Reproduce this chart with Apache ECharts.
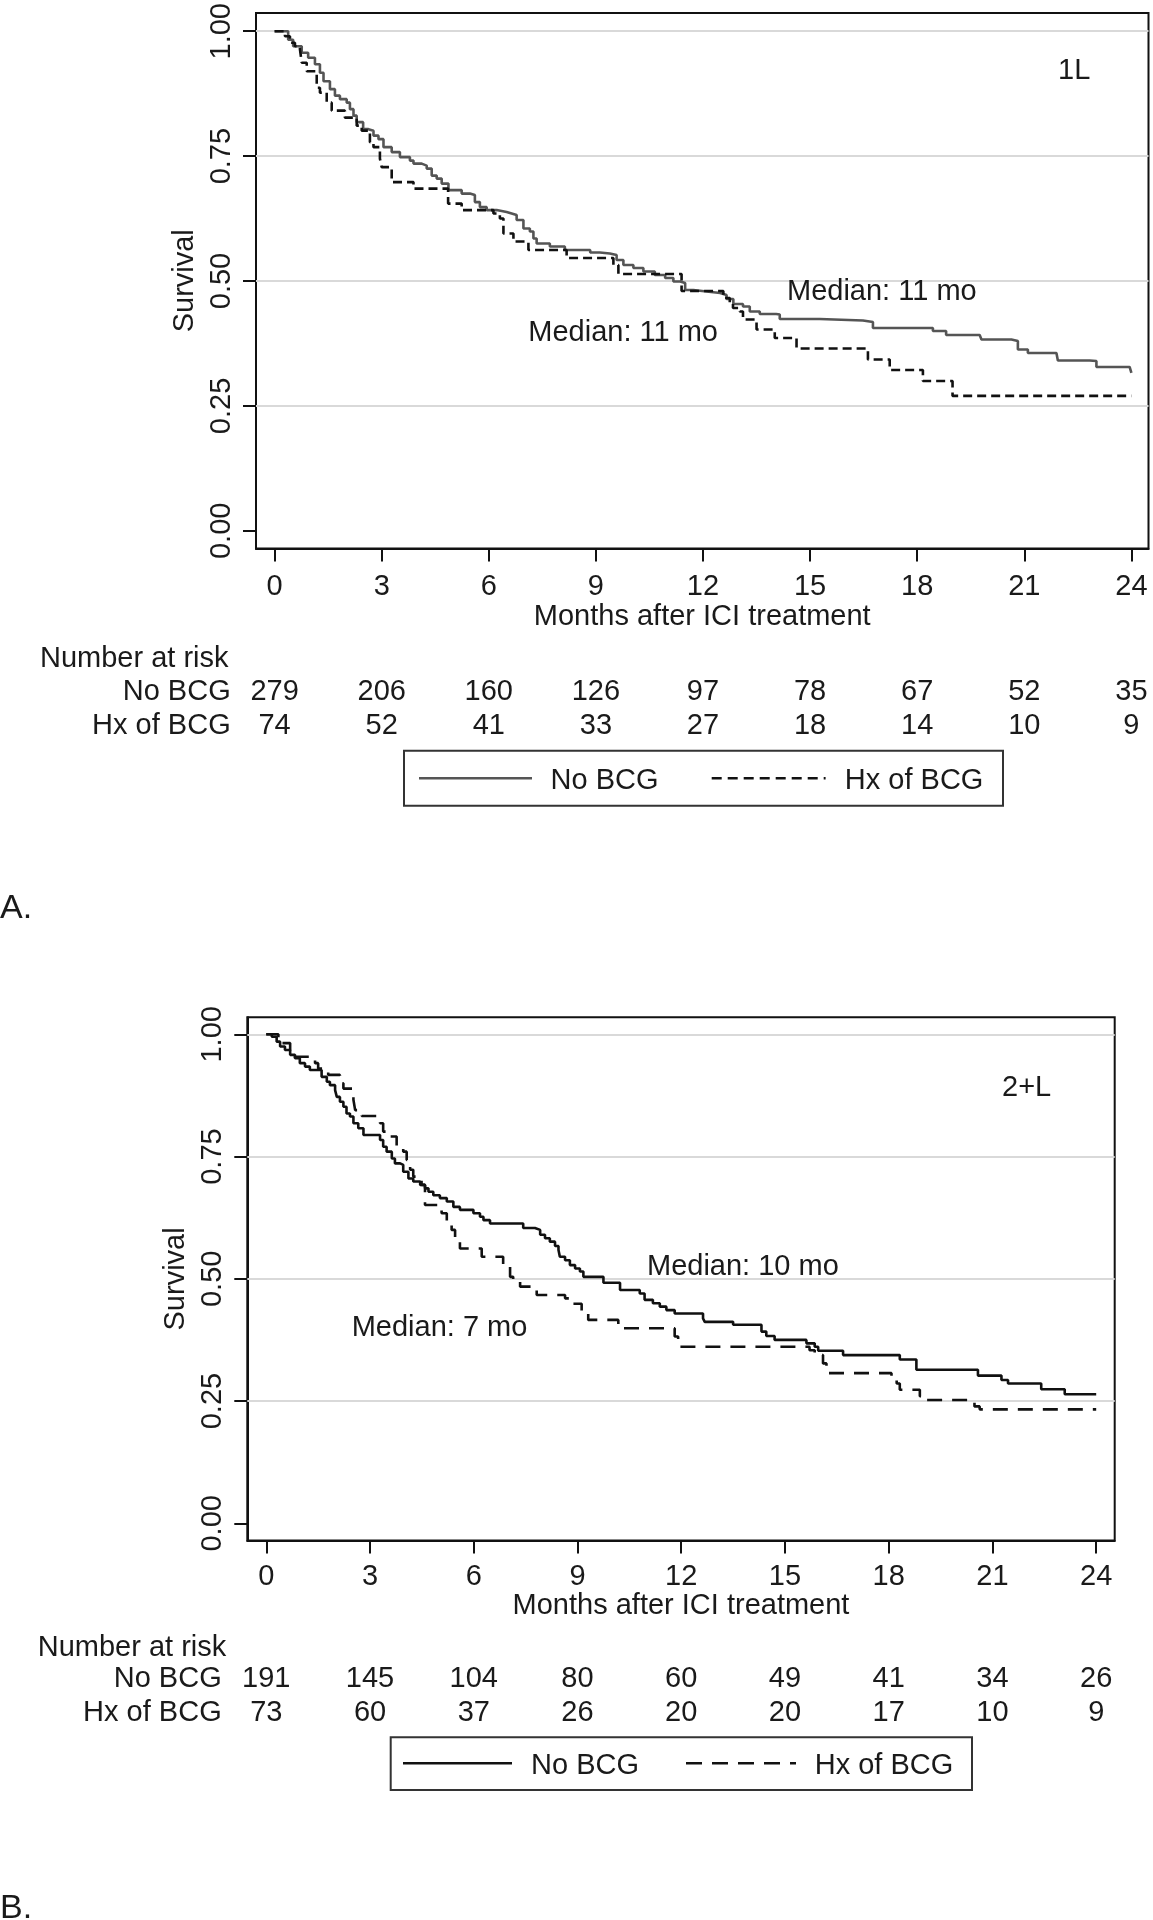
<!DOCTYPE html>
<html>
<head>
<meta charset="utf-8">
<script src="https://cdn.jsdelivr.net/npm/echarts@6/dist/echarts.min.js"></script>
<style>
html,body{margin:0;padding:0;background:#fff;}
#c{width:1153px;height:1920px;}
</style>
</head>
<body>
<div id="c"></div>
<script>
// ---------------- data ----------------
const monthTicks = [0, 3, 6, 9, 12, 15, 18, 21, 24];
const survTicks = [0, 0.25, 0.5, 0.75, 1];
const gridValues = [0.25, 0.5, 0.75, 1];
const groupNames = ['No BCG', 'Hx of BCG'];
const xTitle = 'Months after ICI treatment';
const yTitle = 'Survival';
const riskTitle = 'Number at risk';

const riskA_No = [279, 206, 160, 126, 97, 78, 67, 52, 35];
const riskA_Hx = [74, 52, 41, 33, 27, 18, 14, 10, 9];
const riskB_No = [191, 145, 104, 80, 60, 49, 41, 34, 26];
const riskB_Hx = [73, 60, 37, 26, 20, 20, 17, 10, 9];

// Kaplan-Meier step points [month, survival] (level after each drop)
const kmA_No = [[0,1],[0.24,1],[0.38,0.983],[0.52,0.970],[0.76,0.957],[0.94,0.947],[1.13,0.934],[1.27,0.917],[1.37,0.900],[1.55,0.884],[1.69,0.871],[1.83,0.864],[2.02,0.857],[2.11,0.844],[2.21,0.831],[2.30,0.818],[2.48,0.804],[2.63,0.801],[2.77,0.791],[2.91,0.784],[3.05,0.768],[3.28,0.758],[3.51,0.748],[3.79,0.741],[3.89,0.735],[4.12,0.731],[4.26,0.725],[4.40,0.711],[4.54,0.705],[4.68,0.695],[4.87,0.682],[5.24,0.675],[5.47,0.672],[5.61,0.658],[5.75,0.648],[5.94,0.642],[6.22,0.638],[6.50,0.635],[6.64,0.632],[6.78,0.622],[6.97,0.605],[7.15,0.599],[7.25,0.585],[7.34,0.575],[7.71,0.569],[8.13,0.562],[8.84,0.557],[9.11,0.555],[9.39,0.552],[9.58,0.542],[9.77,0.532],[10.05,0.526],[10.33,0.519],[10.65,0.512],[10.94,0.506],[11.17,0.499],[11.36,0.496],[11.50,0.482],[11.73,0.479],[12.10,0.476],[12.48,0.472],[12.66,0.464],[12.85,0.454],[13.12,0.449],[13.31,0.439],[13.59,0.434],[14.05,0.433],[14.15,0.424],[15.27,0.421],[16.48,0.418],[16.76,0.406],[18.44,0.400],[18.81,0.392],[19.75,0.388],[19.80,0.383],[20.64,0.380],[20.82,0.363],[21.10,0.356],[21.90,0.353],[21.94,0.341],[22.83,0.340],[23.02,0.328],[23.95,0.325],[24,0.316]];
const kmA_Hx = [[0,1],[0.29,0.990],[0.43,0.977],[0.57,0.970],[0.71,0.964],[0.76,0.937],[0.90,0.920],[1.18,0.887],[1.27,0.877],[1.46,0.857],[1.60,0.841],[1.97,0.827],[2.30,0.811],[2.44,0.801],[2.67,0.778],[2.77,0.768],[2.95,0.745],[3.00,0.728],[3.28,0.698],[3.89,0.685],[4.86,0.655],[5.24,0.642],[6.13,0.635],[6.31,0.625],[6.41,0.595],[6.69,0.579],[7.11,0.562],[8.18,0.546],[9.49,0.532],[9.63,0.514],[11.40,0.480],[12.57,0.466],[12.75,0.456],[12.84,0.446],[13.03,0.439],[13.12,0.423],[13.50,0.403],[14.01,0.386],[14.62,0.365],[16.62,0.343],[17.23,0.322],[18.16,0.300],[18.99,0.270],[24,0.270]];
const kmB_No = [[0,1],[0.16,0.995],[0.30,0.985],[0.40,0.975],[0.54,0.968],[0.69,0.958],[0.83,0.951],[0.97,0.941],[1.12,0.934],[1.26,0.927],[1.60,0.913],[1.75,0.903],[1.84,0.896],[1.99,0.886],[2.04,0.872],[2.13,0.862],[2.23,0.852],[2.32,0.838],[2.42,0.832],[2.52,0.818],[2.66,0.808],[2.81,0.794],[3.29,0.784],[3.38,0.770],[3.48,0.760],[3.63,0.746],[3.72,0.736],[3.87,0.733],[3.96,0.719],[4.11,0.705],[4.25,0.699],[4.45,0.692],[4.59,0.685],[4.69,0.678],[4.83,0.671],[5.02,0.665],[5.22,0.658],[5.41,0.647],[5.60,0.641],[5.99,0.634],[6.18,0.627],[6.28,0.620],[6.47,0.613],[7.43,0.604],[7.77,0.600],[7.92,0.590],[8.06,0.583],[8.20,0.576],[8.35,0.567],[8.45,0.559],[8.49,0.545],[8.64,0.538],[8.78,0.528],[8.93,0.521],[9.07,0.515],[9.17,0.504],[9.75,0.492],[10.23,0.477],[10.80,0.470],[10.94,0.457],[11.18,0.450],[11.38,0.443],[11.57,0.436],[11.81,0.429],[12.63,0.419],[12.68,0.412],[13.50,0.406],[14.32,0.392],[14.46,0.383],[14.70,0.375],[15.62,0.368],[15.86,0.361],[15.96,0.353],[16.68,0.344],[18.32,0.335],[18.80,0.314],[20.58,0.302],[21.26,0.293],[21.45,0.286],[22.41,0.274],[23.09,0.264],[24,0.264]];
const kmB_Hx = [[0,1],[0.35,0.982],[0.69,0.954],[1.41,0.941],[1.50,0.930],[1.79,0.917],[2.13,0.900],[2.23,0.889],[2.52,0.866],[2.57,0.845],[2.76,0.833],[3.29,0.818],[3.38,0.801],[3.58,0.791],[3.77,0.770],[3.96,0.760],[4.06,0.743],[4.16,0.723],[4.25,0.709],[4.49,0.692],[4.59,0.651],[5.07,0.634],[5.22,0.613],[5.36,0.600],[5.46,0.576],[5.60,0.562],[6.23,0.545],[6.85,0.524],[7.05,0.504],[7.14,0.496],[7.34,0.484],[7.82,0.467],[8.64,0.460],[8.78,0.449],[9.12,0.429],[9.31,0.416],[10.18,0.399],[11.81,0.382],[11.91,0.361],[15.71,0.354],[15.86,0.344],[16.10,0.327],[16.20,0.307],[18.08,0.300],[18.23,0.286],[18.32,0.273],[18.90,0.260],[18.99,0.252],[20.48,0.239],[20.63,0.233],[24,0.233]];

// ---------------- layout / style ----------------
const FONT = '"Liberation Sans", Arial, Helvetica, sans-serif';
const TXT = '#1a1a1a';
const FS = 29;
const LW = 2.6;
const DY = 2.5; // vertical nudge for middle-aligned text

const panels = [
  {
    grid: {left: 256, top: 10, width: 892.5, height: 538.5},
    xr: [-0.521, 24.479], yr: [-0.0354, 1.0364],
    xLabelMargin: 24, xNameGap: 53, yLabelMargin: 19.5, yNameGap: 47,
    riskOffsets: [140.8 + DY, 174.8 + DY], riskGap: 25.3,
    risk: [riskA_No, riskA_Hx], km: [kmA_No, kmA_Hx],
    colors: ['#555555', '#111111'], dash: [9, 5]
  },
  {
    grid: {left: 247.3, top: 1017.3, width: 867.4, height: 523.2},
    xr: [-0.549, 24.535], yr: [-0.0352, 1.0348],
    xLabelMargin: 21.5, xNameGap: 49.5, yLabelMargin: 19.5, yNameGap: 47,
    riskOffsets: [136.2 + DY, 169.5 + DY], riskGap: 25.6,
    risk: [riskB_No, riskB_Hx], km: [kmB_No, kmB_Hx],
    colors: ['#111111', '#111111'], dash: [15, 10]
  }
];

const txtStyle = {fontFamily: FONT, fontSize: FS, color: TXT};
const grids = [], xAxes = [], yAxes = [], series = [];

panels.forEach((p, gi) => {
  grids.push(Object.assign({show: true, borderColor: '#111', borderWidth: 2, backgroundColor: 'transparent', containLabel: false}, p.grid));
  const mainX = xAxes.length;
  xAxes.push({
    type: 'value', gridIndex: gi, min: p.xr[0], max: p.xr[1], position: 'bottom',
    axisLine: {show: true, onZero: false, lineStyle: {color: '#111', width: 2}},
    axisTick: {show: true, customValues: monthTicks, length: 13, lineStyle: {color: '#111', width: 2}},
    axisLabel: Object.assign({customValues: monthTicks, margin: p.xLabelMargin}, txtStyle),
    splitLine: {show: false},
    name: xTitle, nameLocation: 'middle', nameGap: p.xNameGap, nameTextStyle: txtStyle
  });
  p.risk.forEach((arr, ri) => {
    xAxes.push({
      type: 'value', gridIndex: gi, min: p.xr[0], max: p.xr[1], position: 'bottom',
      offset: p.riskOffsets[ri],
      axisLine: {show: false, onZero: false}, axisTick: {show: false}, splitLine: {show: false},
      axisLabel: Object.assign({
        customValues: monthTicks, margin: 0, verticalAlign: 'middle',
        formatter: v => { const k = monthTicks.findIndex(m => Math.abs(m - v) < 1e-6); return k >= 0 ? String(arr[k]) : ''; }
      }, txtStyle),
      name: groupNames[ri], nameLocation: 'start', nameGap: p.riskGap, nameTextStyle: txtStyle
    });
  });
  yAxes.push({
    type: 'value', gridIndex: gi, min: p.yr[0], max: p.yr[1], position: 'left',
    axisLine: {show: true, onZero: false, lineStyle: {color: '#111', width: 2}},
    axisTick: {show: true, customValues: survTicks, length: 13, lineStyle: {color: '#111', width: 2}},
    axisLabel: Object.assign({customValues: survTicks, rotate: 90, margin: p.yLabelMargin, formatter: v => v.toFixed(2)}, txtStyle),
    splitLine: {show: false},
    name: yTitle, nameLocation: 'middle', nameGap: p.yNameGap, nameTextStyle: txtStyle
  });
  p.km.forEach((data, si) => {
    const s = {
      type: 'line', name: groupNames[si], xAxisIndex: mainX, yAxisIndex: gi,
      data: data, step: 'end', symbol: 'none', showSymbol: false, z: 3,
      lineStyle: {color: p.colors[si], width: LW, type: si === 0 ? 'solid' : p.dash},
      emphasis: {disabled: true}, silent: true, clip: true
    };
    if (si === 0) {
      s.markLine = {
        silent: true, symbol: 'none', z: 1, animation: false,
        label: {show: false},
        lineStyle: {color: '#d9d9d9', width: 2, type: 'solid'},
        emphasis: {disabled: true},
        data: gridValues.map(v => ({yAxis: v}))
      };
    }
    series.push(s);
  });
});

function T(text, x, y, size) {
  return {type: 'text', x: x, y: y + DY, z: 10, silent: true,
    style: {text: text, font: (size || FS) + 'px ' + FONT, fill: TXT,
      align: 'left', verticalAlign: 'middle', textAlign: 'left', textVerticalAlign: 'middle'}};
}
function L(x1, x2, y, color, dash) {
  return {type: 'line', z: 10, silent: true, shape: {x1: x1, y1: y, x2: x2, y2: y},
    style: {stroke: color, lineWidth: LW, lineDash: dash || null}};
}
function R(x, y, w, h) {
  return {type: 'rect', z: 9, silent: true, shape: {x: x, y: y, width: w, height: h},
    style: {fill: '#fff', stroke: '#333', lineWidth: 2}};
}

const graphic = [
  // panel A
  T('1L', 1058, 68.5),
  T('Median: 11 mo', 787, 289),
  T('Median: 11 mo', 528.3, 330.8),
  T(riskTitle, 40, 656),
  R(404, 750.7, 599, 55),
  L(419, 532, 778.3, '#555555'),
  T(groupNames[0], 550.6, 778.3),
  L(711.7, 825.6, 778.3, '#111111', [10, 6]),
  T(groupNames[1], 844.8, 778.3),
  T('A.', 0, 906, 34),
  // panel B
  T('2+L', 1002, 1085),
  T('Median: 10 mo', 647, 1264.5),
  T('Median: 7 mo', 351.7, 1325),
  T(riskTitle, 37.7, 1645),
  R(390.7, 1737.3, 581.3, 52.7),
  L(403, 512, 1763.3, '#111111'),
  T(groupNames[0], 531, 1763.3),
  L(686, 796, 1763.3, '#111111', [16, 10]),
  T(groupNames[1], 814.7, 1763.3),
  T('B.', 0, 1906, 34)
];

const chart = echarts.init(document.getElementById('c'), null, {renderer: 'canvas', width: 1153, height: 1920});
chart.setOption({
  animation: false,
  backgroundColor: '#ffffff',
  textStyle: {fontFamily: FONT},
  grid: grids,
  xAxis: xAxes,
  yAxis: yAxes,
  series: series,
  graphic: graphic
});
</script>
</body>
</html>
